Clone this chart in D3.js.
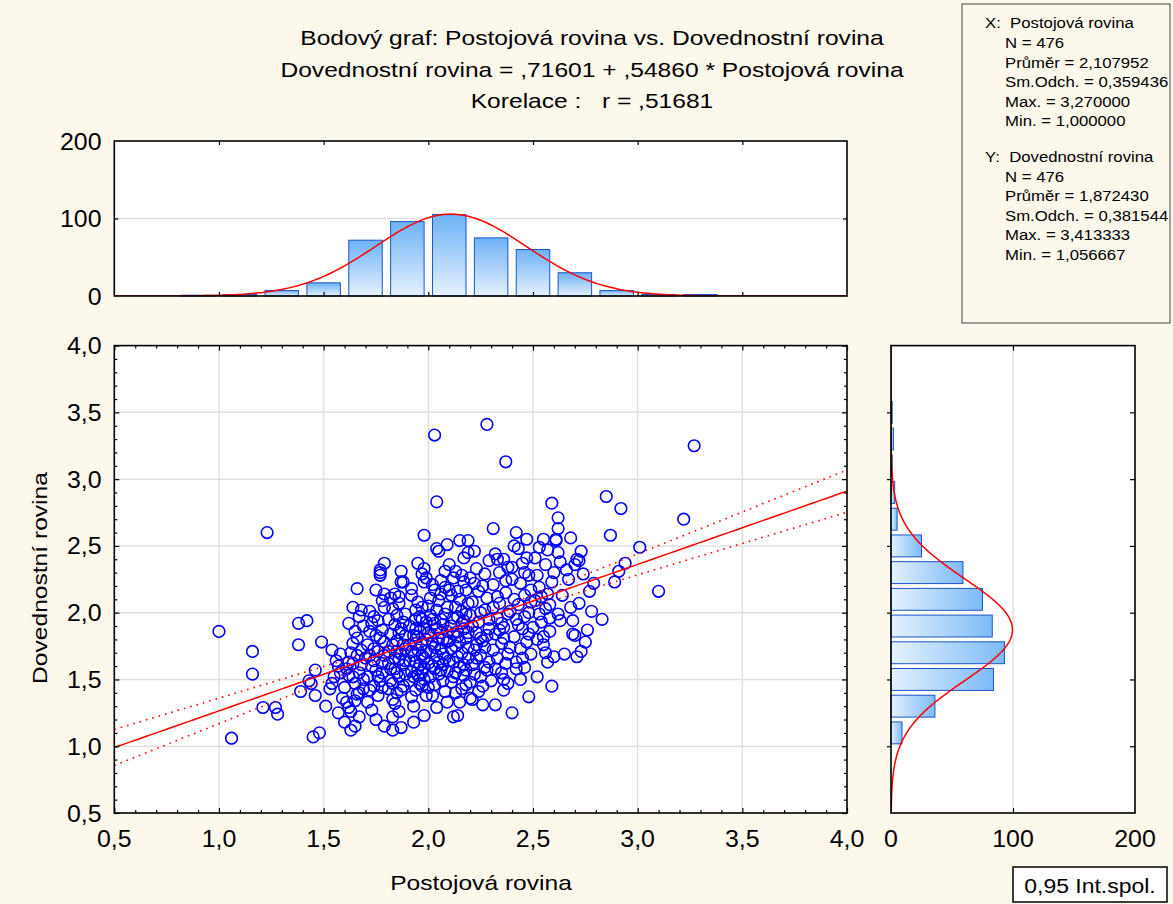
<!DOCTYPE html>
<html lang="cs">
<head>
<meta charset="UTF-8">
<title>Bodový graf</title>
<style>
  html, body { margin: 0; padding: 0; background: #fdf8ec; }
  svg { display: block; font-family: "Liberation Sans", Arial, sans-serif; }
  text { white-space: pre; }
</style>
</head>
<body>
<svg id="svg" width="1173" height="904"></svg>
<script src="https://d3js.org/d3.v7.min.js"></script>
<script>
// ---- data ----
const titleLines = [
  'Bodový graf: Postojová rovina vs. Dovednostní rovina',
  'Dovednostní rovina = ,71601 + ,54860 * Postojová rovina',
  'Korelace :   r = ,51681'
]
const xLabel = 'Postojová rovina'
const yLabel = 'Dovednostní rovina'
const axisTicks = [0.5, 1.0, 1.5, 2.0, 2.5, 3.0, 3.5, 4.0]
const histTicks = [0, 100, 200]

// histogram of X (bins of 0.2 starting at the given value)
const xBinStarts = [0.8, 1.0, 1.2, 1.4, 1.6, 1.8, 2.0, 2.2, 2.4, 2.6, 2.8, 3.0, 3.2]
const xCounts = [1, 2, 7, 17, 72, 96, 105, 75, 60, 30, 7, 2, 2]
// histogram of Y
const yBinStarts = [1.0, 1.2, 1.4, 1.6, 1.8, 2.0, 2.2, 2.4, 2.6, 2.8, 3.0, 3.2, 3.4]
const yCounts = [9, 36, 84, 93, 83, 75, 59, 25, 5, 3, 1, 2, 1]

const statsX = ['X:  Postojová rovina', 'N = 476', 'Průměr = 2,107952', 'Sm.Odch. = 0,359436', 'Max. = 3,270000', 'Min. = 1,000000']
const statsY = ['Y:  Dovednostní rovina', 'N = 476', 'Průměr = 1,872430', 'Sm.Odch. = 0,381544', 'Max. = 3,413333', 'Min. = 1,056667']
const fit = { n: 476, mx: 2.107952, sx: 0.359436, my: 1.872430, sy: 0.381544, a: 0.71601, b: 0.54860, r: 0.51681 }
const legendText = '0,95 Int.spol.'

const points = [
  [1.00,1.86],[1.06,1.06],[1.16,1.71],[1.16,1.54],[1.23,2.60],[1.21,1.29],[1.27,1.29],[1.28,1.24],[1.38,1.92],[1.42,1.94],
  [1.38,1.76],[1.39,1.41],[1.43,1.49],[1.44,1.47],[1.46,1.57],[1.46,1.38],[1.45,1.07],[1.48,1.10],[1.49,1.78],[1.51,1.30],
  [1.54,1.72],[1.56,1.64],[1.57,1.60],[1.55,1.52],[1.54,1.47],[1.58,1.69],[1.53,1.43],[1.58,1.55],[1.59,1.36],[1.57,1.25],
  // 1.6 - 1.7
  [1.60,1.44],[1.61,1.33],[1.62,1.29],[1.60,1.18],[1.63,1.12],[1.64,2.04],[1.66,2.18],[1.62,1.92],[1.61,1.58],[1.62,1.63],
  [1.63,1.70],[1.64,1.52],[1.65,1.47],[1.66,1.39],[1.67,1.97],[1.68,2.02],[1.65,1.86],[1.64,1.77],[1.67,1.55],[1.68,1.61],
  [1.66,1.68],[1.69,1.50],[1.63,1.26],[1.65,1.34],[1.67,1.22],[1.69,1.43],[1.62,1.53],[1.66,1.81],[1.68,1.72],[1.69,1.90],
  [1.64,1.62],[1.67,1.40],[1.65,1.15],[1.70,1.66],
  // 1.7 - 1.8
  [1.71,1.52],[1.72,2.01],[1.73,1.60],[1.74,1.45],[1.75,2.17],[1.75,1.83],[1.76,1.38],[1.77,2.30],[1.77,2.28],[1.77,2.32],
  [1.78,2.09],[1.78,1.55],[1.79,2.37],[1.79,1.15],[1.79,2.14],[1.79,2.04],[1.71,1.76],[1.72,1.68],[1.73,1.92],[1.74,1.64],
  [1.76,1.71],[1.77,1.49],[1.78,1.87],[1.71,1.33],[1.72,1.42],[1.74,1.97],[1.75,1.57],[1.76,1.94],[1.78,1.62],[1.79,1.78],
  [1.73,1.27],[1.75,1.20],[1.77,1.81],[1.78,1.44],[1.72,1.86],[1.76,1.52],[1.79,1.68],[1.74,1.73],
  // 1.8 - 1.9
  [1.82,2.11],[1.84,2.14],[1.86,2.12],[1.86,2.07],[1.83,2.03],[1.89,1.99],[1.88,2.23],[1.87,2.23],[1.83,1.12],[1.87,1.14],
  [1.84,1.32],[1.81,1.95],[1.82,1.58],[1.83,1.47],[1.84,1.66],[1.85,1.79],[1.85,1.40],[1.86,1.52],[1.87,1.88],[1.88,1.61],
  [1.89,1.73],[1.81,1.71],[1.82,1.84],[1.83,1.35],[1.84,1.91],[1.85,1.55],[1.86,1.26],[1.87,1.69],[1.88,1.45],[1.89,1.83],
  [1.81,1.62],[1.82,1.49],[1.83,1.76],[1.84,1.58],[1.85,1.98],[1.86,1.65],[1.87,1.42],[1.88,1.93],[1.89,1.54],[1.81,1.43],
  [1.85,1.71],[1.88,1.76],[1.83,1.22],[1.86,1.85],[1.89,1.64],[1.87,2.31],
  // 1.9 - 2.0
  [1.94,2.02],[1.97,2.04],[1.94,1.95],[1.95,2.37],[1.98,2.33],[1.97,2.29],[1.99,2.26],[1.98,2.23],[1.98,2.58],[1.98,1.23],
  [1.91,1.49],[1.92,1.56],[1.93,1.68],[1.94,1.77],[1.95,1.82],[1.96,1.61],[1.97,1.45],[1.98,1.88],[1.99,1.71],[1.91,1.90],
  [1.92,1.37],[1.93,1.52],[1.94,1.63],[1.95,1.72],[1.96,1.97],[1.97,1.55],[1.98,1.66],[1.99,1.80],[1.91,1.76],[1.92,2.13],
  [1.93,1.83],[1.94,1.42],[1.95,1.58],[1.96,1.86],[1.97,1.68],[1.98,1.50],[1.99,1.93],[1.91,1.64],[1.92,1.71],[1.93,1.30],
  [1.94,1.88],[1.95,2.08],[1.96,1.47],[1.97,1.76],[1.98,1.59],[1.99,1.38],[1.92,2.18],[1.95,1.53],[1.97,1.95],[1.93,1.18],
  // 2.0 - 2.1
  [2.03,3.33],[2.04,2.83],[2.04,2.48],[2.05,2.46],[2.09,2.51],[2.06,2.24],[2.08,2.31],[2.10,2.36],[2.03,2.17],[2.01,2.11],
  [2.00,2.05],[2.06,2.14],[2.04,1.29],[2.01,1.52],[2.02,1.60],[2.03,1.74],[2.04,1.68],[2.05,1.81],[2.06,1.57],[2.07,1.91],
  [2.08,1.66],[2.09,1.78],[2.00,1.85],[2.01,1.71],[2.02,1.95],[2.03,1.46],[2.04,1.88],[2.05,1.63],[2.06,1.73],[2.07,1.49],
  [2.08,1.99],[2.09,1.56],[2.00,1.62],[2.01,1.83],[2.02,1.38],[2.03,1.92],[2.04,2.02],[2.05,1.54],[2.06,1.85],[2.07,1.69],
  [2.08,1.41],[2.09,1.86],[2.01,1.98],[2.02,1.77],[2.05,2.09],[2.07,1.61],[2.08,2.19],[2.09,1.33],[2.00,1.44],[2.06,1.95],
  [2.03,1.58],[2.07,1.80],[2.02,2.21],[2.09,2.04],
  // 2.1 - 2.2
  [2.15,2.54],[2.19,2.54],[2.17,2.41],[2.13,2.31],[2.12,2.26],[2.17,2.23],[2.18,2.17],[2.14,2.16],[2.10,2.17],[2.12,1.22],
  [2.14,1.23],[2.19,2.45],[2.11,1.48],[2.12,1.63],[2.13,1.75],[2.14,1.86],[2.15,1.59],[2.16,1.70],[2.17,1.94],[2.18,1.81],
  [2.19,1.66],[2.10,1.79],[2.11,1.90],[2.12,1.52],[2.13,2.04],[2.14,1.67],[2.15,1.78],[2.16,1.43],[2.17,1.88],[2.18,1.57],
  [2.19,2.07],[2.10,1.64],[2.11,1.73],[2.12,1.96],[2.13,1.40],[2.14,1.82],[2.15,2.10],[2.16,1.92],[2.17,1.61],[2.18,1.99],
  [2.19,1.74],[2.11,2.13],[2.13,1.55],[2.15,1.33],[2.16,2.01],[2.18,1.46],[2.12,1.84],[2.14,1.97],[2.17,1.53],[2.19,1.85],
  [2.16,2.28],
  // 2.2 - 2.3
  [2.20,2.26],[2.22,2.22],[2.21,1.35],[2.20,1.36],[2.28,3.41],[2.20,1.48],[2.21,1.61],[2.22,1.72],[2.23,1.85],[2.24,1.93],
  [2.25,1.68],[2.26,1.79],[2.27,2.02],[2.28,1.57],[2.29,1.88],[2.20,1.98],[2.21,2.08],[2.22,1.54],[2.23,1.66],[2.24,2.16],
  [2.25,1.81],[2.26,1.45],[2.27,1.74],[2.28,2.11],[2.29,1.63],[2.21,1.90],[2.23,2.33],[2.24,1.41],[2.25,2.00],[2.26,2.20],
  [2.27,1.59],[2.29,2.39],[2.22,2.46],[2.25,1.52],[2.28,1.83],[2.23,1.76],[2.27,2.29],[2.29,1.95],[2.30,1.49],[2.26,1.31],
  // 2.3 - 2.4
  [2.31,2.63],[2.32,1.31],[2.36,1.50],[2.38,1.47],[2.36,1.42],[2.37,1.62],[2.37,3.13],[2.40,1.25],[2.32,2.44],[2.33,2.40],
  [2.36,2.40],[2.31,1.72],[2.32,1.84],[2.33,1.96],[2.34,2.07],[2.35,1.77],[2.36,1.89],[2.37,2.15],[2.38,1.69],[2.39,2.01],
  [2.31,2.21],[2.32,1.58],[2.33,1.66],[2.34,2.30],[2.35,1.92],[2.36,1.81],[2.37,2.24],[2.38,1.99],[2.39,1.74],[2.33,2.12],
  [2.35,1.55],[2.38,2.34],[2.34,1.87],[2.31,2.04],
  // 2.4 - 2.5
  [2.42,2.60],[2.47,2.55],[2.41,2.50],[2.42,1.63],[2.43,2.48],[2.45,2.37],[2.46,2.30],[2.48,2.28],[2.49,2.17],[2.41,1.82],
  [2.42,1.95],[2.43,2.06],[2.44,1.73],[2.45,1.88],[2.46,2.13],[2.47,1.78],[2.48,2.00],[2.49,1.69],[2.40,2.25],[2.41,2.10],
  [2.42,1.58],[2.43,1.91],[2.44,2.22],[2.45,1.66],[2.46,1.97],[2.47,2.41],[2.48,1.84],[2.49,2.08],[2.44,1.50],[2.46,1.59],
  [2.40,2.34],[2.48,1.37],
  // 2.5 - 2.6
  [2.52,1.52],[2.59,1.45],[2.60,1.67],[2.56,1.70],[2.59,2.82],[2.55,2.55],[2.59,2.23],[2.60,2.30],[2.57,2.47],[2.51,2.09],
  [2.52,1.80],[2.53,2.19],[2.54,1.93],[2.55,1.76],[2.56,2.03],[2.57,2.14],[2.58,1.86],[2.51,2.41],[2.52,2.28],[2.53,1.99],
  [2.54,2.12],[2.55,1.82],[2.56,2.36],[2.57,1.63],[2.58,2.06],[2.53,2.49],[2.58,1.96],[2.50,1.89],
  // 2.6 - 2.8
  [2.62,2.71],[2.62,2.63],[2.61,2.55],[2.61,2.54],[2.68,2.56],[2.62,2.45],[2.63,2.38],[2.64,2.13],[2.62,1.99],[2.63,1.94],
  [2.69,1.94],[2.69,1.84],[2.70,1.83],[2.65,1.69],[2.68,2.04],[2.67,2.25],[2.66,2.32],
  [2.71,2.40],[2.72,2.39],[2.70,2.36],[2.72,2.07],[2.71,1.67],[2.75,1.78],[2.77,2.16],[2.73,2.46],[2.74,2.29],[2.76,1.87],
  [2.78,2.01],[2.73,1.71],[2.79,2.22],
  // 2.8 and up
  [2.83,1.95],[2.85,2.87],[2.87,2.58],[2.89,2.23],[2.91,2.31],[2.92,2.78],[2.94,2.37],[3.01,2.49],[3.10,2.16],[3.22,2.70],
  [3.27,3.25]
]

// ---- layout ----
const svg = d3.select('#svg')
const x = d3.scaleLinear().domain([0.5, 4.0]).range([114.3, 847])
const y = d3.scaleLinear().domain([0.5, 4.0]).range([813, 345.6])
const hy = d3.scaleLinear().domain([0, 200]).range([296, 141])   // top histogram counts
const hx = d3.scaleLinear().domain([0, 200]).range([891, 1135])  // right histogram counts
const comma = v => d3.format('.1f')(v).replace('.', ',')
const minor = d3.range(5, 41).map(d => d / 10).filter(d => !axisTicks.includes(d))

function label(str, px, py, size, anchor, sx, rot) {
  return svg.append('text')
    .attr('transform', `translate(${px},${py}) rotate(${rot || 0}) scale(${sx},1)`)
    .attr('text-anchor', anchor)
    .style('font-size', size + 'px')
    .attr('fill', '#000')
    .text(str)
}

const defs = svg.append('defs')
const gTop = defs.append('linearGradient').attr('id', 'gradTop').attr('x1', 0).attr('y1', 0).attr('x2', 0).attr('y2', 1)
gTop.append('stop').attr('offset', '0%').attr('stop-color', '#6db2f6')
gTop.append('stop').attr('offset', '100%').attr('stop-color', '#e6f1fd')
const gRight = defs.append('linearGradient').attr('id', 'gradRight').attr('x1', 0).attr('y1', 0).attr('x2', 1).attr('y2', 0)
gRight.append('stop').attr('offset', '0%').attr('stop-color', '#e6f1fd')
gRight.append('stop').attr('offset', '100%').attr('stop-color', '#7cbbf7')
defs.append('clipPath').attr('id', 'clipMain').append('rect')
  .attr('x', x(0.5)).attr('y', y(4)).attr('width', x(4) - x(0.5)).attr('height', y(0.5) - y(4))
defs.append('clipPath').attr('id', 'clipTop').append('rect')
  .attr('x', x(0.5)).attr('y', hy(200)).attr('width', x(4) - x(0.5)).attr('height', hy(0) - hy(200))
defs.append('clipPath').attr('id', 'clipRight').append('rect')
  .attr('x', hx(0)).attr('y', y(4)).attr('width', hx(200) - hx(0)).attr('height', y(0.5) - y(4))

// ---- titles ----
titleLines.forEach((t, i) => label(t, 592, [45, 77, 108][i], 20.5, 'middle', 1.2))

// ---- stats box ----
svg.append('rect').attr('x', 962).attr('y', 4).attr('width', 208).attr('height', 319)
  .attr('fill', '#fdf8ec').attr('stroke', '#404040').attr('stroke-width', 1)
const statsBase = [28, 48, 67.5, 87, 106.5, 126]
statsX.forEach((t, i) => label(t, i ? 1005 : 985, statsBase[i], 15.5, 'start', 1.08))
statsY.forEach((t, i) => label(t, i ? 1005 : 985, statsBase[i] + 133.5, 15.5, 'start', 1.08))

// ---- main scatter ----
const main = svg.append('g')
main.append('rect').attr('x', x(0.5)).attr('y', y(4)).attr('width', x(4) - x(0.5)).attr('height', y(0.5) - y(4)).attr('fill', '#fff')
const inner = axisTicks.slice(1, -1)
main.selectAll('.gx').data(inner).enter().append('line')
  .attr('x1', d => x(d)).attr('x2', d => x(d)).attr('y1', y(4)).attr('y2', y(0.5))
  .attr('stroke', '#e0e0e0').attr('stroke-width', 1.5)
main.selectAll('.gy').data(inner).enter().append('line')
  .attr('y1', d => y(d)).attr('y2', d => y(d)).attr('x1', x(0.5)).attr('x2', x(4))
  .attr('stroke', '#e0e0e0').attr('stroke-width', 1.5)

// regression line and confidence band
const sRes = fit.sy * Math.sqrt((1 - fit.r * fit.r) * (fit.n - 1) / (fit.n - 2))
const sxx = (fit.n - 1) * fit.sx * fit.sx
const tq = 1.965
const grid = d3.range(0.5, 4.0001, 0.02)
const band = v => tq * sRes * Math.sqrt(1 / fit.n + (v - fit.mx) ** 2 / sxx)
const lineGen = f => d3.line().x(d => x(d)).y(d => y(f(d)))
const plotLines = main.append('g').attr('clip-path', 'url(#clipMain)')

plotLines.selectAll('circle').data(points).enter().append('circle')
  .attr('cx', d => x(d[0])).attr('cy', d => y(d[1])).attr('r', 5.8)
  .attr('fill', 'none').attr('stroke', '#0000ff').attr('stroke-width', 1.6)

plotLines.append('path').datum(grid).attr('d', lineGen(v => fit.a + fit.b * v))
  .attr('fill', 'none').attr('stroke', '#ff0000').attr('stroke-width', 1.5)
;[1, -1].forEach(sg => {
  plotLines.append('path').datum(grid).attr('d', lineGen(v => fit.a + fit.b * v + sg * band(v)))
    .attr('fill', 'none').attr('stroke', '#ff0000').attr('stroke-width', 1.6).attr('stroke-dasharray', '1.6,5')
})

function ticks(g, axis, tx, ty) {
  const a = g.append('g').attr('transform', `translate(${tx},${ty})`).call(axis)
  a.select('.domain').remove()
  a.selectAll('line').attr('stroke', '#000').attr('stroke-width', 1.2)
  return a
}
ticks(main, d3.axisBottom(x).tickValues(axisTicks).tickSize(-5).tickFormat(''), 0, y(0.5))
ticks(main, d3.axisBottom(x).tickValues(minor).tickSize(-3).tickFormat(''), 0, y(0.5))
ticks(main, d3.axisTop(x).tickValues(axisTicks).tickSize(-5).tickFormat(''), 0, y(4))
ticks(main, d3.axisTop(x).tickValues(minor).tickSize(-3).tickFormat(''), 0, y(4))
ticks(main, d3.axisLeft(y).tickValues(axisTicks).tickSize(-5).tickFormat(''), x(0.5), 0)
ticks(main, d3.axisLeft(y).tickValues(minor).tickSize(-3).tickFormat(''), x(0.5), 0)
ticks(main, d3.axisRight(y).tickValues(axisTicks).tickSize(-5).tickFormat(''), x(4), 0)
ticks(main, d3.axisRight(y).tickValues(minor).tickSize(-3).tickFormat(''), x(4), 0)
main.append('rect').attr('x', x(0.5)).attr('y', y(4)).attr('width', x(4) - x(0.5)).attr('height', y(0.5) - y(4))
  .attr('fill', 'none').attr('stroke', '#000').attr('stroke-width', 1.6)

axisTicks.forEach(t => label(comma(t), x(t), 846.5, 23.5, 'middle', 1.06))
axisTicks.forEach(t => label(comma(t), 101.5, y(t) + 8.5, 23.5, 'end', 1.06))
label(xLabel, 481, 890, 20.5, 'middle', 1.2)
label(yLabel, 47, 578, 20.5, 'middle', 1.2, -90)

// ---- top histogram (X) ----
const topHist = svg.append('g')
topHist.append('rect').attr('x', x(0.5)).attr('y', hy(200)).attr('width', x(4) - x(0.5)).attr('height', hy(0) - hy(200)).attr('fill', '#fff')
topHist.append('line').attr('x1', x(0.5)).attr('x2', x(4)).attr('y1', hy(100)).attr('y2', hy(100))
  .attr('stroke', '#e0e0e0').attr('stroke-width', 1.5)
const xbw = 0.2
topHist.selectAll('.bar').data(xBinStarts).enter().append('rect')
  .attr('x', d => x(d + xbw * 0.1)).attr('width', d => x(d + xbw * 0.9) - x(d + xbw * 0.1))
  .attr('y', (d, i) => hy(xCounts[i])).attr('height', (d, i) => hy(0) - hy(xCounts[i]))
  .attr('fill', 'url(#gradTop)').attr('stroke', '#1a56cc').attr('stroke-width', 1)
const pdf = (v, m, s) => Math.exp(-0.5 * ((v - m) / s) ** 2) / (s * Math.sqrt(2 * Math.PI))
topHist.append('path').datum(d3.range(0.5, 4.0001, 0.01)).attr('clip-path', 'url(#clipTop)')
  .attr('d', d3.line().x(d => x(d)).y(d => hy(fit.n * xbw * pdf(d, fit.mx, fit.sx))))
  .attr('fill', 'none').attr('stroke', '#ff0000').attr('stroke-width', 1.5)
ticks(topHist, d3.axisTop(x).tickValues(inner).tickSize(-4).tickFormat(''), 0, hy(200))
ticks(topHist, d3.axisBottom(x).tickValues(inner).tickSize(-4).tickFormat(''), 0, hy(0))
ticks(topHist, d3.axisLeft(hy).tickValues([100]).tickSize(-4).tickFormat(''), x(0.5), 0)
ticks(topHist, d3.axisRight(hy).tickValues([100]).tickSize(-4).tickFormat(''), x(4), 0)
topHist.append('rect').attr('x', x(0.5)).attr('y', hy(200)).attr('width', x(4) - x(0.5)).attr('height', hy(0) - hy(200))
  .attr('fill', 'none').attr('stroke', '#000').attr('stroke-width', 1.6)
histTicks.forEach(t => label(String(t), 101.5, hy(t) + 8.5, 23.5, 'end', 1.06))

// ---- right histogram (Y) ----
const rightHist = svg.append('g')
rightHist.append('rect').attr('x', hx(0)).attr('y', y(4)).attr('width', hx(200) - hx(0)).attr('height', y(0.5) - y(4)).attr('fill', '#fff')
rightHist.append('line').attr('x1', hx(100)).attr('x2', hx(100)).attr('y1', y(4)).attr('y2', y(0.5))
  .attr('stroke', '#e0e0e0').attr('stroke-width', 1.5)
const ybw = 0.2
rightHist.selectAll('.bar').data(yBinStarts).enter().append('rect')
  .attr('y', d => y(d + ybw * 0.91)).attr('height', d => y(d + ybw * 0.09) - y(d + ybw * 0.91))
  .attr('x', hx(0)).attr('width', (d, i) => hx(yCounts[i]) - hx(0))
  .attr('fill', 'url(#gradRight)').attr('stroke', '#1a56cc').attr('stroke-width', 1)
rightHist.append('path').datum(d3.range(0.5, 4.0001, 0.01)).attr('clip-path', 'url(#clipRight)')
  .attr('d', d3.line().y(d => y(d)).x(d => hx(fit.n * ybw * pdf(d, fit.my, fit.sy))))
  .attr('fill', 'none').attr('stroke', '#ff0000').attr('stroke-width', 1.5)
ticks(rightHist, d3.axisLeft(y).tickValues(inner).tickSize(4).tickFormat(''), hx(0), 0)
ticks(rightHist, d3.axisRight(y).tickValues(inner).tickSize(-5).tickFormat(''), hx(200), 0)
ticks(rightHist, d3.axisTop(hx).tickValues([100]).tickSize(-5).tickFormat(''), 0, y(4))
ticks(rightHist, d3.axisBottom(hx).tickValues([100]).tickSize(-5).tickFormat(''), 0, y(0.5))
rightHist.append('rect').attr('x', hx(0)).attr('y', y(4)).attr('width', hx(200) - hx(0)).attr('height', y(0.5) - y(4))
  .attr('fill', 'none').attr('stroke', '#000').attr('stroke-width', 1.6)
histTicks.forEach(t => label(String(t), hx(t), 846.5, 23.5, 'middle', 1.06))

// ---- legend box ----
svg.append('rect').attr('x', 1013).attr('y', 867).attr('width', 154).attr('height', 35)
  .attr('fill', '#fff').attr('stroke', '#000').attr('stroke-width', 1.5)
label(legendText, 1090, 893, 20.5, 'middle', 1.12)
</script>
</body>
</html>
